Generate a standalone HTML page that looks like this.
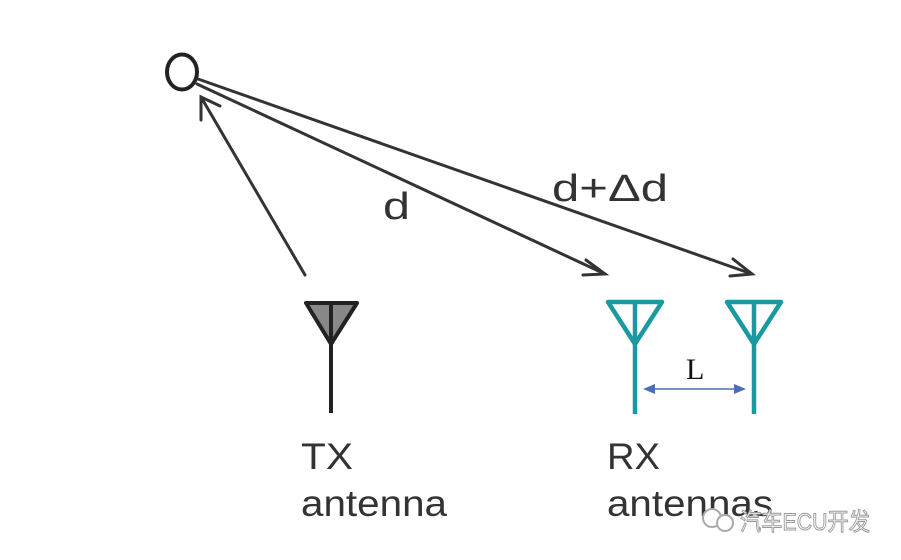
<!DOCTYPE html>
<html><head><style>
body{margin:0;background:#fff;}
svg{display:block}
text{font-family:"Liberation Sans","Noto Sans CJK SC",sans-serif;}
</style></head><body>
<svg width="901" height="560" viewBox="0 0 901 560">
<ellipse cx="182" cy="72" rx="15" ry="17.5" fill="none" stroke="#222" stroke-width="4"/>
<g stroke="#333" stroke-width="3" fill="none" stroke-linecap="round">
<line x1="305" y1="275" x2="201" y2="97"/>
<polyline points="201,120 201,97 220,106"/>
<line x1="197" y1="84" x2="605" y2="274"/>
<polyline points="586,260 605,274 583,275"/>
<line x1="198" y1="79" x2="752" y2="274"/>
<polyline points="733,259 752,274 730,276"/>
</g>
<polygon points="306,303 357,303 331,344" fill="#888" stroke="#222" stroke-width="4" stroke-linejoin="round"/>
<line x1="331" y1="303" x2="331" y2="413" stroke="#222" stroke-width="4"/>
<g stroke="#1a9aa0" stroke-width="4.5" fill="none" stroke-linejoin="round">
<polygon points="608,302 662,302 635,344"/>
<line x1="635" y1="302" x2="635" y2="414"/>
<polygon points="727,302 781,302 754,344"/>
<line x1="754" y1="302" x2="754" y2="414"/>
</g>
<line x1="652" y1="389" x2="737" y2="389" stroke="#4a6fb5" stroke-width="1.5"/>
<polygon points="643,389 655,384 655,394" fill="#4a6fb5"/>
<polygon points="746,389 734,384 734,394" fill="#4a6fb5"/>
<text x="686" y="379" font-size="30" fill="#111" style="font-family:'Liberation Serif',serif">L</text>
<text x="383" y="219" font-size="38" fill="#333" textLength="27" lengthAdjust="spacingAndGlyphs">d</text>
<text x="552" y="201" font-size="38" fill="#333" textLength="116" lengthAdjust="spacingAndGlyphs">d+Δd</text>
<text x="301" y="469" font-size="37" fill="#333" textLength="52" lengthAdjust="spacingAndGlyphs">TX</text>
<text x="301" y="516" font-size="37" fill="#333" textLength="146" lengthAdjust="spacingAndGlyphs">antenna</text>
<text x="607" y="469" font-size="37" fill="#333" textLength="53" lengthAdjust="spacingAndGlyphs">RX</text>
<text x="607" y="516" font-size="37" fill="#333" textLength="166" lengthAdjust="spacingAndGlyphs">antennas</text>
<circle cx="712" cy="518" r="9" fill="#fff" stroke="#aaa" stroke-width="2"/>
<circle cx="725" cy="523" r="8" fill="#fff" stroke="#aaa" stroke-width="2"/>
<text x="740" y="530" font-size="24" fill="#fff" stroke="#999" stroke-width="1" textLength="130" lengthAdjust="spacingAndGlyphs">汽车ECU开发</text>
</svg>
</body></html>
